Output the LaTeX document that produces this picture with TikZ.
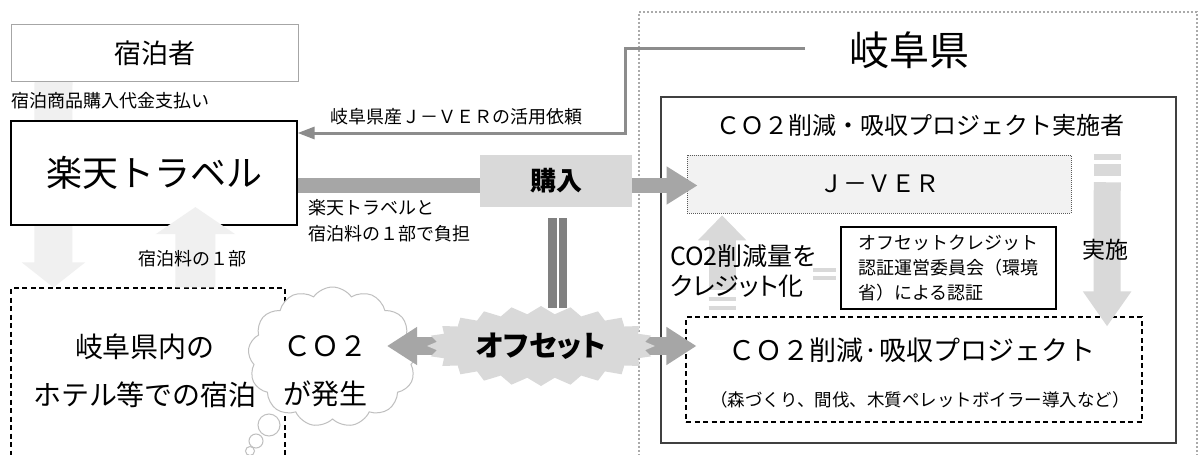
\documentclass[tikz,border=0pt]{standalone}
\usepackage{fontspec}
\setmainfont{Noto Sans CJK JP}
\newfontfamily\pfont[RawFeature=+palt]{Noto Sans CJK JP}
\usetikzlibrary{arrows.meta,shapes.symbols,calc}
\pgfdeclarelayer{bg}
\pgfsetlayers{bg,main}
\newcommand\jfs[1]{\fontsize{#1}{#1}\selectfont}
\definecolor{clight}{HTML}{F0F0F0}
\definecolor{cpale}{HTML}{D9D9D9}
\definecolor{cmid}{HTML}{A6A6A6}
\definecolor{cdark}{HTML}{808080}
\definecolor{cjv}{HTML}{F2F2F2}
\definecolor{creq}{HTML}{8C8C8C}
\definecolor{ccloud}{HTML}{BFBFBF}
\definecolor{couter}{HTML}{AAAAAA}
\tikzset{
  txt/.style={inner sep=0pt, text=black},
  plainbox/.style={draw, inner sep=0pt, fill=white},
  dashbox/.style={draw=black, line width=1.1pt, dash pattern=on 5pt off 3.5pt, inner sep=0pt},
  bubble/.style={draw=ccloud, fill=white, line width=1pt},
}
\begin{document}
\begin{tikzpicture}[x=1pt,y=-1pt]
\useasboundingbox (0,0) rectangle (1200,455);
\begin{pgfonlayer}{bg}
\fill[white] (0,0) rectangle (1200,455);
\end{pgfonlayer}
\clip (0,0) rectangle (1200,455);

% Gifu area
\node[draw=couter, line width=1.8pt, dash pattern=on 1.6pt off 2.4pt, minimum width=558pt, minimum height=458pt, inner sep=0pt] (gifuarea) at (918,241) {};
\node[txt, font=\jfs{40}] (gifu) at (909,50) {岐阜県};
\node[draw=black!75, line width=1.5pt, minimum width=515pt, minimum height=346pt, inner sep=0pt] (impl) at (918.5,270) {};
\node[txt, font=\jfs{24}] (impltitle) at (920,125) {ＣＯ２削減・吸収プロジェクト実施者};
\node[draw=black!65, line width=0.8pt, dash pattern=on 1pt off 1pt, fill=cjv, minimum width=384pt, minimum height=58pt, inner sep=0pt, font=\jfs{24}] (jver) at (879,184) {Ｊ－ＶＥＲ};

% left side
\node[plainbox, draw=gray!70, line width=1pt, minimum width=287pt, minimum height=57pt, font=\jfs{27}] (guest) at (154.5,53) {宿泊者};
\node[plainbox, draw=black, line width=1.2pt, minimum width=286pt, minimum height=104pt, font=\jfs{36}] (rakuten) at (154,173) {楽天トラベル};
\node[dashbox, minimum width=274pt, minimum height=182pt] (hotelbox) at (148,379) {};
\node[txt, font=\fontsize{28}{48}\selectfont, align=center] (hoteltxt) at (145,371) {岐阜県内の\\ホテル等での宿泊};

\begin{pgfonlayer}{bg}
\draw[clight, line width=38pt, -{Triangle[width=62pt,length=25pt]}] ([xshift=43pt]guest.south west) -- ([xshift=43pt]hotelbox.north west);
\end{pgfonlayer}

\draw[clight, line width=40pt, -{Triangle[width=78pt,length=27pt]}] ([xshift=185pt]hotelbox.north west) -- ($(rakuten.south west)+(185,-18.5)$);

\node[txt, anchor=west, font=\jfs{18}] (paylbl) at (11,101) {宿泊商品購入代金支払い};
\node[txt, font=\jfs{18}] (feelbl) at (192,259) {宿泊料の１部};

% cloud
\draw[bubble] (269,425) circle (11pt);
\draw[bubble] (256,441) circle (7pt);
\draw[bubble] (250,451) circle (4.5pt);
\node[cloud, cloud puffs=13, cloud puff arc=110, aspect=1.15, draw=ccloud, fill=white, line width=1pt, minimum width=169pt, minimum height=140pt, inner sep=0pt] (cloud) at (332.5,357) {};
\node[txt, font=\fontsize{28}{48}\selectfont, align=center] (co2txt) at (325,371) {ＣＯ２\\が発生};

% request line
\coordinate (reqstart) at (805,48);
\draw[creq, line width=3pt, -{Triangle[width=12pt,length=17pt]}] (reqstart) -- (625,48) |- ($(rakuten.east)+(0,-40)$);
\node[txt, anchor=west, font=\jfs{18}] (reqlbl) at (330,117) {岐阜県産Ｊ－ＶＥＲの活用依頼};

% purchase
\node[fill=cpale, minimum width=152pt, minimum height=52pt, inner sep=0pt, font=\pfont\bfseries\jfs{26}] (buy) at (556,181) {購入};
\draw[cmid, line width=15pt] ($(rakuten.east)+(0,12.5)$) -- ($(buy.west)+(0,4.5)$);
\draw[cmid, line width=15pt, -{Triangle[width=36pt,length=31pt]}] ($(buy.east)+(0,4.5)$) -- ($(jver.west)+(11,1.5)$);
\node[txt, anchor=west, font=\fontsize{18}{26}\selectfont, align=left] (burden) at (308,221) {楽天トラベルと\\宿泊料の１部で負担};
\draw[cdark, line width=9pt] ($(buy.south)+(-3.5,11)$) -- ($(buy.south)+(-3.5,101)$);
\draw[cdark, line width=8pt] ($(buy.south)+(7,11)$) -- ($(buy.south)+(7,101)$);

% project
\node[dashbox, minimum width=456pt, minimum height=105pt] (project) at (914,369.5) {};
\node[txt, font=\jfs{27}] (projtitle) at (912,350) {ＣＯ２削減·吸収プロジェクト};
\node[txt, font=\jfs{17.5}] (projsub) at (920,400) {（森づくり、間伐、木質ペレットボイラー導入など）};

% offset
\coordinate (offc) at (541,346);
\draw[cmid, line width=18pt, {Triangle[width=36pt,length=30pt]}-{Triangle[width=36pt,length=30pt]}] ($(cloud.center)+(54.5,-11)$) -- ($(project.west)+(11,-23.5)$);
\begin{scope}[shift={(offc)}]
\fill[cpale] (114,0) \foreach \i in {1,...,47} { -- ({(114-9*isodd(\i))*cos(\i*7.5)},{(40-8*isodd(\i))*sin(\i*7.5)}) } -- cycle;
\end{scope}
\node[txt, font=\pfont\bfseries\jfs{29}] (offset) at (offc) {オフセット};

% credit arrow
\draw[cpale, line width=27pt, -{Triangle[width=47pt,length=25pt]}] ($(jver.south west)+(35.5,77)$) -- ($(jver.south west)+(35.5,2)$);
\draw[cpale, line width=3.5pt] ($(jver.south west)+(22,85.5)$) -- ($(jver.south west)+(49,85.5)$);
\draw[cpale, line width=3.5pt] ($(jver.south west)+(22,94.5)$) -- ($(jver.south west)+(49,94.5)$);
\node[txt, anchor=west, font=\pfont\fontsize{25}{30}\selectfont, align=left] (creditlbl) at (670,271) {CO2削減量を\\クレジット化};

% certification
\node[draw=black, line width=1.2pt, minimum width=215pt, minimum height=82pt, inner sep=0pt, align=left, font=\fontsize{18}{25}\selectfont] (cert) at (948.5,268) {オフセットクレジット\\認証運営委員会（環境\\省）による認証};
\draw[cpale, line width=4pt] ($(cert.west)+(-27,2)$) -- ($(cert.west)+(-4,2)$);
\draw[cpale, line width=4pt] ($(cert.west)+(-27,10)$) -- ($(cert.west)+(-4,10)$);

% implement arrow
\draw[cpale, line width=6pt] ($(impl.north east)+(-83,61)$) -- ($(impl.north east)+(-56,61)$);
\draw[cpale, line width=12pt] ($(impl.north east)+(-83,74)$) -- ($(impl.north east)+(-56,74)$);
\draw[cpale, line width=27pt, -{Triangle[width=46pt,length=35pt]}] ($(impl.north east)+(-69.5,86)$) -- ($(project.north east)+(-35.5,10)$);
\node[txt, font=\jfs{23}] (jisshi) at (1105,250) {実施};
\end{tikzpicture}
\end{document}
